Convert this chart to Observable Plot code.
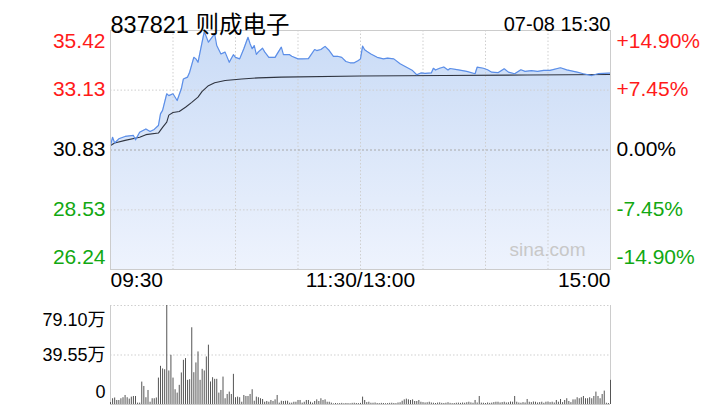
<!DOCTYPE html>
<html><head><meta charset="utf-8">
<script src="https://cdn.jsdelivr.net/npm/d3@7"></script>
<script src="https://cdn.jsdelivr.net/npm/@observablehq/plot@0.6"></script>
<style>
body{margin:0;background:#fff;width:720px;height:420px;overflow:hidden;position:relative;font-family:"Liberation Sans",Arial,"Noto Sans CJK SC",sans-serif;}
#price,#vol{position:absolute;left:0;}
#price{top:0}
#vol{top:300px}
</style></head><body>
<div id="price"></div><div id="vol"></div>
<script>
const title = "837821 则成电子";
const stamp = "07-08 15:30";
const prevClose = 30.83;
const priceTicks = [35.42, 33.13, 30.83, 28.53, 26.24];
const pctLabels = ["+14.90%", "+7.45%", "0.00%", "-7.45%", "-14.90%"];
const tickColors = ["#ff1a1a", "#ff1a1a", "#000000", "#12a812", "#12a812"];
const timeTicks = [0, 120, 240];
const timeLabels = ["09:30", "11:30/13:00", "15:00"];
const gridMinutes = [30, 60, 90, 120, 150, 180, 210];
const priceMinutes = [0,1,2,4,7,11,12,14,17,19,21,23,24,25,27,28,30,32,34,35,37,38,40,41,42,45,47,50,51,53,55,57,59,60,62,64,66,67,68,69,70,71,73,74,76,79,80,82,83,86,87,90,92,95,98,99,101,103,105,107,109,111,113,115,117,119,120,121,122,123,125,128,131,133,136,139,143,145,147,149,151,154,155,156,158,160,162,163,167,171,175,176,179,181,183,186,189,191,194,197,199,202,205,208,211,216,219,224,227,231,234,239,240];
const priceValues = [31.0,31.32,31.1,31.26,31.35,31.39,31.22,31.51,31.64,31.54,31.62,31.77,32.22,32.35,32.99,32.92,32.99,32.73,33.18,33.56,33.63,33.82,34.39,34.33,34.2,35.38,34.97,35.29,34.84,34.52,34.59,34.2,34.49,34.39,34.33,34.72,35.16,34.91,34.72,34.84,34.5,34.6,34.74,34.6,34.39,34.39,34.52,34.78,34.49,34.49,34.43,34.33,34.33,34.34,34.69,34.65,34.69,34.81,34.65,34.43,34.43,34.39,34.23,34.18,34.18,34.27,34.33,34.82,34.68,34.62,34.52,34.39,34.33,34.36,34.33,34.14,33.97,33.88,33.72,33.79,33.77,33.79,33.97,33.9,33.97,34.02,33.9,33.96,33.91,33.85,33.76,34.01,33.97,33.91,33.82,33.8,33.95,33.82,33.76,33.91,33.85,33.88,33.85,33.89,33.89,33.99,33.91,33.82,33.76,33.69,33.76,33.78,33.78];
const avgMinutes = [0,2,7,14,17,23,25,27,28,30,33,36,39,42,44,47,50,55,63,71,82,120,160,200,240];
const avgValues = [31.0,31.1,31.2,31.32,31.42,31.48,31.7,31.9,32.17,32.27,32.31,32.47,32.66,32.86,33.08,33.3,33.41,33.5,33.56,33.6,33.63,33.67,33.69,33.71,33.73];
// volume per minute, in 万
const volumes = [
1.5,4.6,5.2,3.2,3.2,4.6,5.4,7.2,5.4,4.3,
5.9,6.4,6.4,1.1,1.1,17.9,14.4,5.4,11.2,1.8,
4.6,4.6,5.2,21.1,30.5,28.4,27.8,79.1,26.8,39.3,
21.1,11.8,9.1,15.3,25.2,35.3,36.7,19.3,19.8,61.3,
25.4,33.2,42,19.3,28.1,26.8,38,47.4,18,21.4,
20.1,20.1,9.1,11.2,21.9,4.6,8,9.9,8,24.1,
5.4,5.9,5.4,1.8,7.2,6.4,6.4,8,11.8,2.6,
5.9,5.4,4.6,4,1.8,2.4,1.8,3.2,2.4,3.7,
7.2,1.1,2.6,2.4,2.6,2.6,1.1,1.1,1.8,1.8,
3.2,3.2,1.1,1.8,3.2,3.2,1.8,1.1,2.4,3.7,
2.4,4.6,3.2,3.7,1.8,1.8,1.1,0.5,0.8,0.6,
0.7,0.9,0.6,0.8,0.7,0.6,0.9,1.0,0.8,0.7,
0.9,5.9,3.2,1.5,1.8,1.0,1.0,1.2,0.8,0.7,
0.9,0.8,0.6,0.7,0.9,1.0,0.8,0.7,1.2,1.4,
2.6,3.7,4.3,3.7,3.2,3.7,2.4,2.4,3.2,1.8,
1.5,1.2,1.4,1.8,1.2,1.0,0.8,1.1,1.3,0.9,
0.8,1.0,1.4,0.9,0.7,0.8,1.0,1.1,0.9,1.2,
1.0,1.4,1.8,1.3,1.0,3.2,1.2,6.4,1.1,1.0,
0.8,1.2,0.9,1.1,1.5,1.8,1.8,1.2,1.5,1.8,
1.2,1.4,2.0,1.8,6.4,1.8,1.2,1.0,1.5,1.2,
4.0,1.8,1.5,2.0,1.8,1.2,1.5,1.8,1.0,1.8,
2.0,1.5,1.8,1.2,3.2,1.8,4.0,1.5,3.2,4.6,
2.4,1.5,3.7,3.7,5.4,4.6,5.4,6.4,4.6,4.6,
5.4,4.6,6.4,9.9,6.4,4.6,8.0,10.7,1.0,0.8,
19.3];
const volTicks = [79.10, 39.55, 0];
const volLabels = ["79.10万", "39.55万", "0"];
const watermark = "sina.com";

const FONT = '"Liberation Sans", Arial, "Noto Sans CJK SC", sans-serif';
const priceData = priceMinutes.map((m, i) => ({m, p: priceValues[i]}));
const avgData = avgMinutes.map((m, i) => ({m, p: avgValues[i]}));
const volData = volumes.map((v, i) => ({m: i, v}));
const yMin = priceTicks[priceTicks.length - 1], yMax = priceTicks[0];

const gradient = () => {
  const defs = d3.create("svg:defs");
  const g = defs.append("linearGradient").attr("id", "pgrad")
    .attr("gradientUnits", "userSpaceOnUse").attr("x1", 0).attr("x2", 0).attr("y1", 30).attr("y2", 269);
  g.append("stop").attr("offset", "0%").attr("stop-color", "#c9dbf6");
  g.append("stop").attr("offset", "100%").attr("stop-color", "#eef3fd");
  return defs.node();
};

const yLabel = (ids, dy) => [
  Plot.text(ids, {y: i => priceTicks[i], text: i => priceTicks[i].toFixed(2), fill: i => tickColors[i],
    frameAnchor: "left", textAnchor: "end", dx: -5, dy, fontSize: 21, fontFamily: FONT}),
  Plot.text(ids, {y: i => priceTicks[i], text: i => pctLabels[i], fill: i => tickColors[i],
    frameAnchor: "right", textAnchor: "start", dx: 6, dy, fontSize: 21, fontFamily: FONT})
];

const price = Plot.plot({
  width: 720, height: 300,
  marginLeft: 110, marginRight: 110, marginTop: 30, marginBottom: 31,
  x: {domain: [0, 240], axis: null},
  y: {domain: [yMin, yMax], axis: null},
  color: {type: "identity"},
  style: {fontFamily: FONT, background: "transparent", overflow: "visible"},
  marks: [
    gradient,
    Plot.areaY(priceData, {x: "m", y1: yMin, y2: "p", fill: "url(#pgrad)"}),
    Plot.ruleX(gridMinutes, {x: d => d, stroke: "#cfcfcf", strokeDasharray: "1.5,2"}),
    Plot.ruleY([priceTicks[1], priceTicks[3]], {y: d => d, stroke: "#cfcfcf", strokeDasharray: "1.5,2"}),
    Plot.ruleY([prevClose], {y: d => d, stroke: "#a8a8a8", strokeDasharray: "2,2"}),
    Plot.line(avgData, {x: "m", y: "p", stroke: "#2f3440", strokeWidth: 1.1}),
    Plot.line(priceData, {x: "m", y: "p", stroke: "#5b8ee8", strokeWidth: 1.2}),
    Plot.frame({stroke: "#cccccc"}),
    ...yLabel([0], 11),
    ...yLabel([1, 2, 3], -1),
    ...yLabel([4], -12),
    Plot.text([timeLabels[0]], {x: timeTicks[0], text: d => d, frameAnchor: "bottom", textAnchor: "start", dy: 17, fontSize: 21, fill: "#000"}),
    Plot.text([timeLabels[1]], {x: timeTicks[1], text: d => d, frameAnchor: "bottom", textAnchor: "middle", dy: 17, fontSize: 21, fill: "#000"}),
    Plot.text([timeLabels[2]], {x: timeTicks[2], text: d => d, frameAnchor: "bottom", textAnchor: "end", dy: 17, fontSize: 21, fill: "#000"}),
    Plot.text([title], {text: d => d, frameAnchor: "top-left", textAnchor: "start", dy: -14, fontSize: 23.5, fill: "#000"}),
    Plot.text([stamp], {text: d => d, frameAnchor: "top-right", textAnchor: "end", dy: -14, fontSize: 20, fill: "#000"}),
    Plot.text([watermark], {text: d => d, frameAnchor: "bottom-right", textAnchor: "end", dx: -25, dy: -14, fontSize: 19, fill: "#c8c8c8"})
  ]
});
document.getElementById("price").appendChild(price);

const vol = Plot.plot({
  width: 720, height: 120,
  marginLeft: 110, marginRight: 110, marginTop: 5, marginBottom: 16,
  x: {domain: [0, 240], axis: null},
  y: {domain: [0, volTicks[0]], axis: null},
  color: {type: "identity"},
  style: {fontFamily: FONT, background: "transparent", overflow: "visible"},
  marks: [
    Plot.ruleY([volTicks[0], volTicks[1]], {y: d => d, stroke: "#cfcfcf", strokeDasharray: "1.5,2"}),
    Plot.ruleY([0], {y: d => d, stroke: "#cccccc"}),
    Plot.ruleX([0, 240], {x: d => d, stroke: "#cccccc"}),
    Plot.ruleX(volData, {x: "m", y1: 0, y2: "v", stroke: "#555555", strokeWidth: 1}),
    Plot.text([0], {y: i => volTicks[i], text: i => volLabels[i], frameAnchor: "left", textAnchor: "end", dx: -5, dy: 15, fontSize: 18, fill: "#000"}),
    Plot.text([1], {y: i => volTicks[i], text: i => volLabels[i], frameAnchor: "left", textAnchor: "end", dx: -5, dy: 0, fontSize: 18, fill: "#000"}),
    Plot.text([2], {y: i => volTicks[i], text: i => volLabels[i], frameAnchor: "left", textAnchor: "end", dx: -5, dy: -12, fontSize: 18, fill: "#000"})
  ]
});
document.getElementById("vol").appendChild(vol);
</script>
</body></html>
